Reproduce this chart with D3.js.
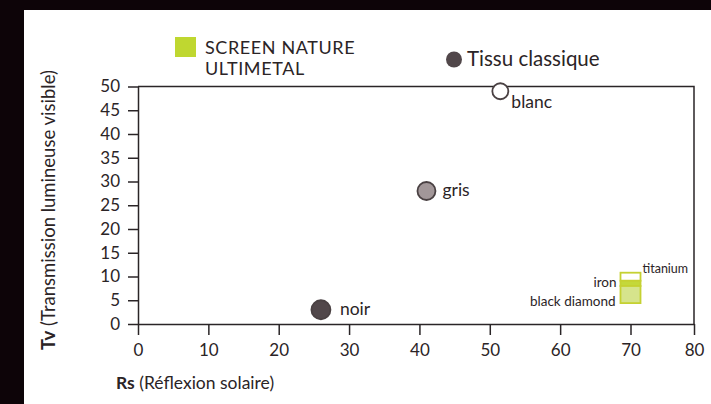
<!DOCTYPE html>
<html><head><meta charset="utf-8">
<script src="https://cdn.jsdelivr.net/npm/d3@7"></script>
<style>
html,body{margin:0;padding:0;background:#0d0408;}
svg{display:block;}
text{font-family:Lato,"Open Sans",sans-serif;fill:#2b2426;}
</style></head><body>
<svg id="c" width="711" height="404"></svg>
<script>
// ---- data ----
const xTicks = [0, 10, 20, 30, 40, 50, 60, 70, 80];
const yTicks = [0, 5, 10, 15, 20, 25, 30, 35, 40, 45, 50];
const tissuNames = ["noir", "gris", "blanc"];
const tissuRs = [26, 41, 51.5];
const tissuTv = [3, 28, 49];
const tissuFill = ["#51474a", "#a29799", "#ffffff"];
const ultiNames = ["titanium", "iron", "black diamond"];
const ultiRs = [70, 70, 70];
const ultiTvLow = [9.1, 8.0, 4.4];
const ultiTvHigh = [10.8, 9.1, 8.0];
const ultiFill = ["#ffffff", "#c4d83a", "#d6e48c"];
const legendLabels = ["SCREEN NATURE", "ULTIMETAL"];
const legendTissu = "Tissu classique";

// ---- layout ----
const svg = d3.select("#c");
svg.append("rect").attr("x", 24).attr("y", 10).attr("width", 687).attr("height", 394).attr("fill", "#fff");

const x = d3.scaleLinear().domain([0, 70, 80]).range([138, 630.5, 694]);
const y = d3.scaleLinear().domain([0, 50]).range([324, 86.5]);
const axisColor = "#2a2527";

// frame (top + right)
svg.append("path")
  .attr("d", `M${x(0)},${y(50)}H${x(80)}V${y(0)}`)
  .attr("fill", "none").attr("stroke", axisColor).attr("stroke-width", 1.5);

const gx = svg.append("g").attr("transform", `translate(0,${y(0)})`)
  .call(d3.axisBottom(x).tickValues(xTicks).tickSize(11).tickSizeOuter(0).tickPadding(9).tickFormat(d3.format("d")));
const gy = svg.append("g").attr("transform", `translate(${x(0)},0)`)
  .call(d3.axisLeft(y).tickValues(yTicks).tickSize(10).tickSizeOuter(0).tickPadding(8).tickFormat(d3.format("d")));
[gx, gy].forEach(g => {
  g.selectAll("path,line").attr("stroke", axisColor).attr("stroke-width", 1.5);
  g.selectAll("text").attr("font-size", 17).attr("fill", "#2b2426").style("font-family", "Lato");
});

// axis titles
const xt = svg.append("text").attr("x", 116).attr("y", 389).attr("font-size", 17.5);
xt.append("tspan").attr("font-weight", "bold").text("Rs");
xt.append("tspan").text(" (Réflexion solaire)");
const yt = svg.append("text").attr("transform", "translate(55,210) rotate(-90)")
  .attr("text-anchor", "middle").attr("font-size", 18.5);
yt.append("tspan").attr("font-weight", "bold").text("Tv");
yt.append("tspan").text(" (Transmission lumineuse visible)");

// ultimetal ranges
const rectW = 20;
const green = "#c5d132";
ultiNames.forEach((n, i) => {
  svg.append("rect")
    .attr("x", x(ultiRs[i]) - rectW / 2)
    .attr("y", y(ultiTvHigh[i]))
    .attr("width", rectW)
    .attr("height", y(ultiTvLow[i]) - y(ultiTvHigh[i]))
    .attr("fill", ultiFill[i]).attr("stroke", green).attr("stroke-width", 1.8);
});
const xr = x(ultiRs[0]);
svg.append("text").attr("x", xr + rectW / 2 + 2).attr("y", y(ultiTvHigh[0]) + 0).attr("font-size", 12.5).text(ultiNames[0]);
svg.append("text").attr("x", xr - rectW / 2 - 4).attr("y", y(ultiTvLow[1]) + 1).attr("text-anchor", "end").attr("font-size", 13.5).text(ultiNames[1]);
svg.append("text").attr("x", xr - rectW / 2 - 5).attr("y", y(ultiTvLow[2]) + 3).attr("text-anchor", "end").attr("font-size", 13.5).text(ultiNames[2]);

// tissu points
const labelOffset = {noir: [19, 5], gris: [16, 5], blanc: [11, 17]};
const radius = {noir: 9.5, gris: 9, blanc: 8};
tissuNames.forEach((n, i) => {
  svg.append("circle").attr("cx", x(tissuRs[i])).attr("cy", y(tissuTv[i])).attr("r", radius[n])
    .attr("fill", tissuFill[i]).attr("stroke", "#4a4143").attr("stroke-width", 1.8);
  svg.append("text").attr("x", x(tissuRs[i]) + labelOffset[n][0]).attr("y", y(tissuTv[i]) + labelOffset[n][1])
    .attr("font-size", 17.5).text(n);
});

// legend
svg.append("rect").attr("x", 175).attr("y", 37).attr("width", 21).attr("height", 20).attr("fill", "#bfd730");
legendLabels.forEach((t, i) => {
  svg.append("text").attr("x", 205).attr("y", 53.5 + i * 21.8).attr("font-size", 18)
    .attr("letter-spacing", 0.6).text(t);
});
svg.append("circle").attr("cx", 454).attr("cy", 59.5).attr("r", 8).attr("fill", "#51474a");
svg.append("text").attr("x", 467).attr("y", 66).attr("font-size", 20.5).text(legendTissu);
</script>
</body></html>
